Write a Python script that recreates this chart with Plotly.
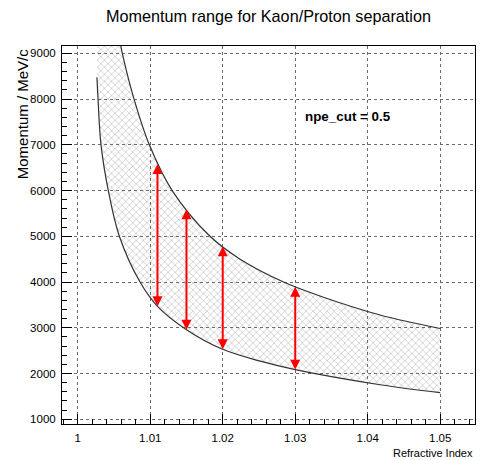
import plotly.graph_objects as go

# Upper boundary
upper_n = [1.0056, 1.00615, 1.00777, 1.00988, 1.01303, 1.01825, 1.0224,
           1.0284, 1.0335, 1.0417, 1.05]
upper_p = [9450, 9000, 8000, 7000, 6000, 5000, 4500,
           4000, 3690, 3280, 2985]

# Lower boundary
lower_n = [1.00265, 1.0028, 1.00321, 1.00422, 1.00574, 1.00859, 1.011, 1.015,
           1.02, 1.0252, 1.03, 1.0417, 1.05]
lower_p = [8475, 8000, 7000, 6000, 5000, 4000, 3470, 2960,
           2530, 2270, 2085, 1755, 1581]

# Red double arrows
arrow_n = [1.011, 1.015, 1.02, 1.03]
arrow_lo = [3470, 2960, 2530, 2085]
arrow_hi = [6580, 5590, 4780, 3895]

x_ticks = [1, 1.01, 1.02, 1.03, 1.04, 1.05]
x_tick_text = ["1", "1.01", "1.02", "1.03", "1.04", "1.05"]
y_ticks = [1000, 2000, 3000, 4000, 5000, 6000, 7000, 8000, 9000]

FONT = "Liberation Sans, Arial, sans-serif"
CURVE = dict(color="#333333", width=1.2, shape="spline", smoothing=1.0)

fig = go.Figure()

# lower curve (also base of the hatched band)
fig.add_trace(go.Scatter(x=lower_n, y=lower_p, mode="lines", line=CURVE,
                         showlegend=False))
# band boundary on the upper side (vertical left edge above the lower curve start)
fig.add_trace(go.Scatter(
    x=[lower_n[0]] + upper_n, y=[upper_p[0]] + upper_p, mode="lines",
    line=dict(width=0, color="rgba(0,0,0,0)", shape="spline", smoothing=1.0),
    fill="tonexty", fillcolor="rgba(0,0,0,0)",
    fillpattern=dict(shape="x", size=5, solidity=0.25, fgcolor="#8a8a8a",
                     bgcolor="rgba(0,0,0,0)"),
    hoverinfo="skip", showlegend=False))
# upper curve
fig.add_trace(go.Scatter(x=upper_n, y=upper_p, mode="lines", line=CURVE,
                         showlegend=False))

# arrows shafts
sx, sy = [], []
for n, lo, hi in zip(arrow_n, arrow_lo, arrow_hi):
    sx += [n, n, None]
    sy += [lo + 150, hi - 150, None]
fig.add_trace(go.Scatter(x=sx, y=sy, mode="lines",
                         line=dict(color="#ff0000", width=2), showlegend=False))
fig.add_trace(go.Scatter(x=arrow_n, y=arrow_hi, mode="markers",
                         marker=dict(symbol="arrow-up", size=10, color="#ff0000",
                                     line=dict(width=0)), showlegend=False))
fig.add_trace(go.Scatter(x=arrow_n, y=arrow_lo, mode="markers",
                         marker=dict(symbol="arrow-down", size=10, color="#ff0000",
                                     line=dict(width=0)), showlegend=False))

axis_common = dict(showline=True, linecolor="black", linewidth=1, mirror=True,
                   ticks="inside", tickcolor="black", ticklen=10, tickwidth=1,
                   showgrid=True, gridcolor="#6a6a6a", griddash="dot", gridwidth=1,
                   zeroline=False, tickfont=dict(family=FONT, size=11.5, color="black"))

fig.update_xaxes(range=[0.99783, 1.0548], tickvals=x_ticks, ticktext=x_tick_text,
                 minor=dict(dtick=0.002, tick0=1, ticks="inside", ticklen=5,
                            tickcolor="black", showgrid=False),
                 ticklabelstandoff=3, **axis_common)
fig.update_yaxes(range=[897, 9160], tickvals=y_ticks,
                 minor=dict(dtick=200, tick0=1000, ticks="inside", ticklen=5,
                            tickcolor="black", showgrid=False),
                 ticklabelstandoff=3, **axis_common)

fig.update_layout(
    width=481, height=460,
    margin=dict(l=62, r=6, t=46, b=36),
    paper_bgcolor="white", plot_bgcolor="white",
    title=dict(text="Momentum range for Kaon/Proton separation",
               font=dict(family=FONT, size=16.2, color="black"),
               x=0.5, xref="paper", xanchor="center",
               y=1 - 16.3 / 460, yref="container", yanchor="middle"),
    annotations=[
        dict(text="Momentum / MeV/c", textangle=-90, xref="paper", yref="paper",
             x=-0.095, y=1.0, xanchor="center", yanchor="top", showarrow=False,
             font=dict(family=FONT, size=15, color="black")),
        dict(text="Refractive Index", xref="paper", yref="paper",
             x=1.0, y=-0.0754, xanchor="right", yanchor="middle", showarrow=False,
             font=dict(family=FONT, size=11, color="black")),
        dict(text="<b>npe_cut = 0.5</b>", xref="paper", yref="paper",
             x=0.583, y=0.813, xanchor="left", yanchor="middle", showarrow=False,
             font=dict(family=FONT, size=13.4, color="black")),
    ],
)

fig.write_html("out.html")
